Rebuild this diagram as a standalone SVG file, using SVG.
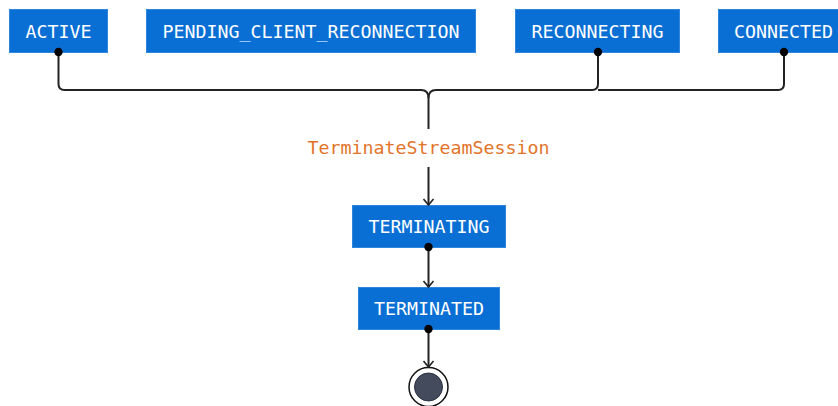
<svg xmlns="http://www.w3.org/2000/svg" width="838" height="406" viewBox="0 0 838 406">
<defs>
<style>
.node rect{fill:#0a6fd4;stroke:#2f86df;stroke-width:1}
.node text{fill:#ffffff;font-family:"DejaVu Sans Mono",monospace;font-size:18.3px;text-anchor:middle}
.edge{fill:none;stroke:#222222;stroke-width:2}
.dot{fill:#000000}
.lbl{fill:#e2742a;font-family:"DejaVu Sans Mono",monospace;font-size:18.3px;text-anchor:middle}
</style>
<marker id="arr" viewBox="0 0 10 12" refX="9" refY="6" markerWidth="10" markerHeight="12" markerUnits="userSpaceOnUse" orient="auto">
<path d="M3,1 L9,6 L3,11" fill="none" stroke="#222222" stroke-width="1.6"/>
</marker>
</defs>
<rect width="838" height="406" fill="#ffffff"/>
<g id="ACTIVE" class="node"><rect x="9.5" y="9.5" width="98" height="43"/><text x="58.5" y="37.5">ACTIVE</text></g>
<g id="PENDING_CLIENT_RECONNECTION" class="node"><rect x="146.5" y="9.5" width="329" height="43"/><text x="311" y="37.5">PENDING_CLIENT_RECONNECTION</text></g>
<g id="RECONNECTING" class="node"><rect x="515.5" y="9.5" width="164" height="43"/><text x="597.5" y="37.5">RECONNECTING</text></g>
<g id="CONNECTED" class="node"><rect x="718.5" y="9.5" width="130" height="43"/><text x="783.5" y="37.5">CONNECTED</text></g>
<g id="TERMINATING" class="node"><rect x="352.5" y="205.5" width="153" height="42"/><text x="429" y="232.5">TERMINATING</text></g>
<g id="TERMINATED" class="node"><rect x="358.5" y="287.5" width="141" height="42"/><text x="429" y="314.5">TERMINATED</text></g>
<g id="final">
<circle cx="428.5" cy="387" r="19.5" fill="#ffffff" stroke="#111111" stroke-width="1.5"/>
<circle cx="428.5" cy="387" r="14" fill="#434b5c" stroke="#2b3140" stroke-width="1"/>
</g>
<g id="connectors">
<path class="edge" d="M58.5,52 V84 Q58.5,90 64.5,90 H421 Q428.5,90 428.5,98 V129"/>
<path class="edge" d="M598,52 V84 Q598,90 592,90 H436 Q428.5,90 428.5,98"/>
<path class="edge" d="M784,52 V84 Q784,90 778,90 H598"/>
<path class="edge" d="M428.5,167 V205" marker-end="url(#arr)"/>
<path class="edge" d="M428.5,247 V287" marker-end="url(#arr)"/>
<path class="edge" d="M428.5,329 V367" marker-end="url(#arr)"/>
<circle class="dot" cx="58.5" cy="52" r="4.2"/>
<circle class="dot" cx="598" cy="52" r="4.2"/>
<circle class="dot" cx="784" cy="52" r="4.2"/>
<circle class="dot" cx="428.5" cy="247" r="4.2"/>
<circle class="dot" cx="428.5" cy="329" r="4.2"/>
<text class="lbl" x="428.5" y="154">TerminateStreamSession</text>
</g>
</svg>
